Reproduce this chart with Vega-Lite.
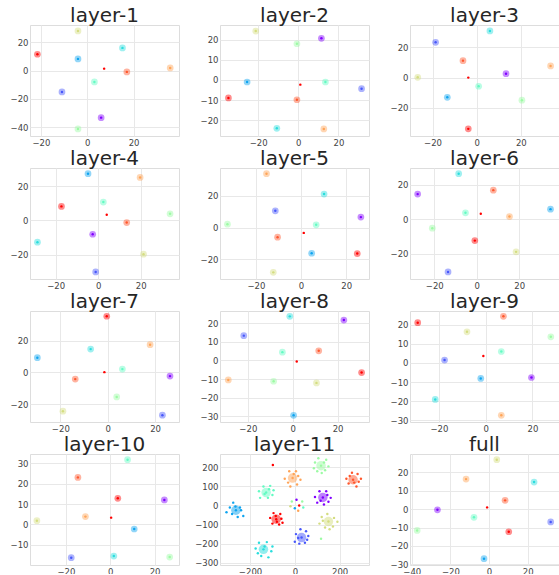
{
  "$schema": "https://vega.github.io/schema/vega-lite/v6.json",
  "padding": {"left": 9, "top": 5, "right": 0, "bottom": -2},
  "background": "white",
  "data": {"values": [
    {"p":"1","c":9,"k":"c","x":-21.5,"y":11.6},
    {"p":"1","c":6,"k":"c","x":-4.0,"y":28.1},
    {"p":"1","c":2,"k":"c","x":-4.0,"y":8.3},
    {"p":"1","c":3,"k":"c","x":15.2,"y":16.1},
    {"p":"1","c":8,"k":"c","x":17.1,"y":-0.9},
    {"p":"1","c":7,"k":"c","x":35.8,"y":1.9},
    {"p":"1","c":4,"k":"c","x":3.1,"y":-8.0},
    {"p":"1","c":1,"k":"c","x":-10.9,"y":-15.1},
    {"p":"1","c":0,"k":"c","x":6.0,"y":-33.3},
    {"p":"1","c":5,"k":"c","x":-4.0,"y":-41.3},
    {"p":"1","c":9,"k":"s","x":7.3,"y":1.4},

    {"p":"2","c":6,"k":"c","x":-21.2,"y":24.3},
    {"p":"2","c":5,"k":"c","x":-0.7,"y":18.0},
    {"p":"2","c":0,"k":"c","x":11.5,"y":20.7},
    {"p":"2","c":2,"k":"c","x":-25.5,"y":-1.0},
    {"p":"2","c":4,"k":"c","x":13.5,"y":-1.0},
    {"p":"2","c":1,"k":"c","x":31.5,"y":-4.3},
    {"p":"2","c":9,"k":"c","x":-34.8,"y":-8.9},
    {"p":"2","c":8,"k":"c","x":-0.7,"y":-9.8},
    {"p":"2","c":3,"k":"c","x":-10.7,"y":-24.0},
    {"p":"2","c":7,"k":"c","x":12.7,"y":-24.3},
    {"p":"2","c":9,"k":"s","x":1.0,"y":-2.3},

    {"p":"3","c":3,"k":"c","x":6.0,"y":30.8},
    {"p":"3","c":1,"k":"c","x":-18.6,"y":23.3},
    {"p":"3","c":8,"k":"c","x":-6.2,"y":11.2},
    {"p":"3","c":7,"k":"c","x":33.5,"y":7.7},
    {"p":"3","c":6,"k":"c","x":-26.7,"y":0.2},
    {"p":"3","c":0,"k":"c","x":13.3,"y":2.6},
    {"p":"3","c":4,"k":"c","x":0.9,"y":-5.7},
    {"p":"3","c":2,"k":"c","x":-13.3,"y":-13.0},
    {"p":"3","c":5,"k":"c","x":20.5,"y":-14.9},
    {"p":"3","c":9,"k":"c","x":-3.8,"y":-33.8},
    {"p":"3","c":9,"k":"s","x":-3.8,"y":0.0},

    {"p":"4","c":2,"k":"c","x":-4.8,"y":27.2},
    {"p":"4","c":7,"k":"c","x":19.7,"y":25.0},
    {"p":"4","c":4,"k":"c","x":2.4,"y":10.7},
    {"p":"4","c":9,"k":"c","x":-17.3,"y":8.2},
    {"p":"4","c":5,"k":"c","x":33.8,"y":3.9},
    {"p":"4","c":8,"k":"c","x":13.4,"y":-1.2},
    {"p":"4","c":0,"k":"c","x":-2.6,"y":-8.0},
    {"p":"4","c":3,"k":"c","x":-28.6,"y":-12.6},
    {"p":"4","c":6,"k":"c","x":21.3,"y":-19.6},
    {"p":"4","c":1,"k":"c","x":-1.2,"y":-29.9},
    {"p":"4","c":9,"k":"s","x":4.0,"y":3.3},

    {"p":"5","c":7,"k":"c","x":-15.3,"y":34.1},
    {"p":"5","c":3,"k":"c","x":10.2,"y":21.2},
    {"p":"5","c":1,"k":"c","x":-11.4,"y":10.6},
    {"p":"5","c":0,"k":"c","x":26.5,"y":6.6},
    {"p":"5","c":5,"k":"c","x":-32.6,"y":2.1},
    {"p":"5","c":4,"k":"c","x":6.7,"y":1.7},
    {"p":"5","c":8,"k":"c","x":-10.4,"y":-6.1},
    {"p":"5","c":2,"k":"c","x":4.7,"y":-16.3},
    {"p":"5","c":9,"k":"c","x":24.9,"y":-16.5},
    {"p":"5","c":6,"k":"c","x":-12.3,"y":-28.4},
    {"p":"5","c":9,"k":"s","x":1.2,"y":-3.4},

    {"p":"6","c":3,"k":"c","x":-8.5,"y":26.3},
    {"p":"6","c":0,"k":"c","x":-27.8,"y":14.5},
    {"p":"6","c":8,"k":"c","x":7.8,"y":16.8},
    {"p":"6","c":2,"k":"c","x":34.7,"y":5.8},
    {"p":"6","c":4,"k":"c","x":-5.3,"y":3.7},
    {"p":"6","c":7,"k":"c","x":15.4,"y":1.5},
    {"p":"6","c":5,"k":"c","x":-20.9,"y":-5.2},
    {"p":"6","c":9,"k":"c","x":-0.9,"y":-12.4},
    {"p":"6","c":6,"k":"c","x":18.5,"y":-18.9},
    {"p":"6","c":1,"k":"c","x":-13.5,"y":-30.5},
    {"p":"6","c":9,"k":"s","x":1.9,"y":3.1},

    {"p":"7","c":9,"k":"c","x":-0.4,"y":35.4},
    {"p":"7","c":7,"k":"c","x":17.9,"y":17.5},
    {"p":"7","c":3,"k":"c","x":-7.2,"y":14.7},
    {"p":"7","c":2,"k":"c","x":-29.7,"y":9.3},
    {"p":"7","c":4,"k":"c","x":6.2,"y":2.1},
    {"p":"7","c":0,"k":"c","x":26.3,"y":-2.3},
    {"p":"7","c":8,"k":"c","x":-13.7,"y":-4.2},
    {"p":"7","c":5,"k":"c","x":3.8,"y":-15.4},
    {"p":"7","c":6,"k":"c","x":-18.9,"y":-24.4},
    {"p":"7","c":1,"k":"c","x":23.1,"y":-26.9},
    {"p":"7","c":9,"k":"s","x":-1.4,"y":0.2},

    {"p":"8","c":3,"k":"c","x":-1.3,"y":23.8},
    {"p":"8","c":0,"k":"c","x":22.8,"y":21.8},
    {"p":"8","c":1,"k":"c","x":-21.8,"y":13.4},
    {"p":"8","c":4,"k":"c","x":-4.6,"y":4.5},
    {"p":"8","c":8,"k":"c","x":11.6,"y":5.2},
    {"p":"8","c":9,"k":"c","x":30.7,"y":-6.5},
    {"p":"8","c":7,"k":"c","x":-28.7,"y":-10.5},
    {"p":"8","c":5,"k":"c","x":-8.5,"y":-11.2},
    {"p":"8","c":6,"k":"c","x":10.6,"y":-12.1},
    {"p":"8","c":2,"k":"c","x":0.4,"y":-29.6},
    {"p":"8","c":9,"k":"s","x":1.8,"y":-0.5},

    {"p":"9","c":9,"k":"c","x":-29.1,"y":21.1},
    {"p":"9","c":8,"k":"c","x":7.6,"y":24.4},
    {"p":"9","c":6,"k":"c","x":-8.0,"y":16.3},
    {"p":"9","c":5,"k":"c","x":27.9,"y":13.7},
    {"p":"9","c":4,"k":"c","x":6.7,"y":6.0},
    {"p":"9","c":1,"k":"c","x":-17.6,"y":1.5},
    {"p":"9","c":2,"k":"c","x":-2.1,"y":-8.1},
    {"p":"9","c":0,"k":"c","x":19.6,"y":-7.6},
    {"p":"9","c":3,"k":"c","x":-21.6,"y":-19.1},
    {"p":"9","c":7,"k":"c","x":6.7,"y":-27.4},
    {"p":"9","c":9,"k":"s","x":-1.0,"y":3.6},

    {"p":"10","c":4,"k":"c","x":7.8,"y":31.8},
    {"p":"10","c":8,"k":"c","x":-14.6,"y":23.1},
    {"p":"10","c":9,"k":"c","x":3.4,"y":12.8},
    {"p":"10","c":0,"k":"c","x":24.4,"y":12.0},
    {"p":"10","c":7,"k":"c","x":-11.2,"y":3.8},
    {"p":"10","c":6,"k":"c","x":-33.1,"y":1.8},
    {"p":"10","c":2,"k":"c","x":10.8,"y":-2.3},
    {"p":"10","c":1,"k":"c","x":-17.6,"y":-16.4},
    {"p":"10","c":3,"k":"c","x":1.6,"y":-15.6},
    {"p":"10","c":5,"k":"c","x":26.8,"y":-16.1},
    {"p":"10","c":9,"k":"s","x":0.4,"y":3.3},

    {"p":"11","c":2,"k":"c","x":-263,"y":-25},
    {"p":"11","c":2,"k":"s","x":-275,"y":15},
    {"p":"11","c":2,"k":"s","x":-305,"y":-35},
    {"p":"11","c":2,"k":"s","x":-290,"y":-10},
    {"p":"11","c":2,"k":"s","x":-245,"y":-10},
    {"p":"11","c":2,"k":"s","x":-230,"y":-55},
    {"p":"11","c":2,"k":"s","x":-255,"y":-60},
    {"p":"11","c":2,"k":"s","x":-280,"y":-45},
    {"p":"11","c":2,"k":"s","x":-240,"y":-25},
    {"p":"11","c":2,"k":"s","x":-265,"y":-5},
    {"p":"11","c":3,"k":"c","x":-140,"y":-230},
    {"p":"11","c":3,"k":"s","x":-160,"y":-195},
    {"p":"11","c":3,"k":"s","x":-125,"y":-192},
    {"p":"11","c":3,"k":"s","x":-175,"y":-225},
    {"p":"11","c":3,"k":"s","x":-105,"y":-240},
    {"p":"11","c":3,"k":"s","x":-150,"y":-265},
    {"p":"11","c":3,"k":"s","x":-118,"y":-272},
    {"p":"11","c":3,"k":"s","x":-165,"y":-250},
    {"p":"11","c":3,"k":"s","x":-135,"y":-215},
    {"p":"11","c":3,"k":"s","x":-100,"y":-215},
    {"p":"11","c":4,"k":"c","x":-128,"y":68},
    {"p":"11","c":4,"k":"s","x":-140,"y":100},
    {"p":"11","c":4,"k":"s","x":-110,"y":103},
    {"p":"11","c":4,"k":"s","x":-160,"y":75},
    {"p":"11","c":4,"k":"s","x":-95,"y":80},
    {"p":"11","c":4,"k":"s","x":-155,"y":40},
    {"p":"11","c":4,"k":"s","x":-120,"y":40},
    {"p":"11","c":4,"k":"s","x":-100,"y":55},
    {"p":"11","c":4,"k":"s","x":-135,"y":60},
    {"p":"11","c":4,"k":"s","x":-115,"y":85},
    {"p":"11","c":9,"k":"c","x":-83,"y":-72},
    {"p":"11","c":9,"k":"s","x":-95,"y":-40},
    {"p":"11","c":9,"k":"s","x":-65,"y":-45},
    {"p":"11","c":9,"k":"s","x":-110,"y":-65},
    {"p":"11","c":9,"k":"s","x":-60,"y":-70},
    {"p":"11","c":9,"k":"s","x":-100,"y":-95},
    {"p":"11","c":9,"k":"s","x":-70,"y":-100},
    {"p":"11","c":9,"k":"s","x":-55,"y":-90},
    {"p":"11","c":9,"k":"s","x":-85,"y":-55},
    {"p":"11","c":9,"k":"s","x":-80,"y":-85},
    {"p":"11","c":9,"k":"s","x":-98,"y":212},
    {"p":"11","c":7,"k":"c","x":-10,"y":144},
    {"p":"11","c":7,"k":"s","x":-25,"y":180},
    {"p":"11","c":7,"k":"s","x":5,"y":180},
    {"p":"11","c":7,"k":"s","x":-45,"y":140},
    {"p":"11","c":7,"k":"s","x":25,"y":135},
    {"p":"11","c":7,"k":"s","x":-20,"y":100},
    {"p":"11","c":7,"k":"s","x":10,"y":110},
    {"p":"11","c":7,"k":"s","x":-5,"y":165},
    {"p":"11","c":7,"k":"s","x":-30,"y":120},
    {"p":"11","c":7,"k":"s","x":15,"y":155},
    {"p":"11","c":5,"k":"c","x":117,"y":209},
    {"p":"11","c":5,"k":"s","x":105,"y":248},
    {"p":"11","c":5,"k":"s","x":90,"y":225},
    {"p":"11","c":5,"k":"s","x":140,"y":240},
    {"p":"11","c":5,"k":"s","x":150,"y":205},
    {"p":"11","c":5,"k":"s","x":85,"y":195},
    {"p":"11","c":5,"k":"s","x":120,"y":170},
    {"p":"11","c":5,"k":"s","x":100,"y":180},
    {"p":"11","c":5,"k":"s","x":135,"y":185},
    {"p":"11","c":5,"k":"s","x":130,"y":225},
    {"p":"11","c":5,"k":"s","x":117,"y":-174},
    {"p":"11","c":8,"k":"c","x":260,"y":135},
    {"p":"11","c":8,"k":"s","x":255,"y":172},
    {"p":"11","c":8,"k":"s","x":280,"y":165},
    {"p":"11","c":8,"k":"s","x":230,"y":140},
    {"p":"11","c":8,"k":"s","x":295,"y":140},
    {"p":"11","c":8,"k":"s","x":240,"y":115},
    {"p":"11","c":8,"k":"s","x":275,"y":100},
    {"p":"11","c":8,"k":"s","x":265,"y":120},
    {"p":"11","c":8,"k":"s","x":245,"y":155},
    {"p":"11","c":8,"k":"s","x":285,"y":125},
    {"p":"11","c":0,"k":"c","x":125,"y":42},
    {"p":"11","c":0,"k":"s","x":110,"y":75},
    {"p":"11","c":0,"k":"s","x":140,"y":75},
    {"p":"11","c":0,"k":"s","x":90,"y":45},
    {"p":"11","c":0,"k":"s","x":160,"y":40},
    {"p":"11","c":0,"k":"s","x":100,"y":15},
    {"p":"11","c":0,"k":"s","x":130,"y":5},
    {"p":"11","c":0,"k":"s","x":115,"y":25},
    {"p":"11","c":0,"k":"s","x":150,"y":20},
    {"p":"11","c":0,"k":"s","x":145,"y":55},
    {"p":"11","c":6,"k":"c","x":150,"y":-84},
    {"p":"11","c":6,"k":"s","x":145,"y":-45},
    {"p":"11","c":6,"k":"s","x":120,"y":-60},
    {"p":"11","c":6,"k":"s","x":175,"y":-65},
    {"p":"11","c":6,"k":"s","x":190,"y":-85},
    {"p":"11","c":6,"k":"s","x":110,"y":-95},
    {"p":"11","c":6,"k":"s","x":135,"y":-115},
    {"p":"11","c":6,"k":"s","x":170,"y":-110},
    {"p":"11","c":6,"k":"s","x":155,"y":-125},
    {"p":"11","c":6,"k":"s","x":125,"y":-80},
    {"p":"11","c":1,"k":"c","x":30,"y":-168},
    {"p":"11","c":1,"k":"s","x":25,"y":-125},
    {"p":"11","c":1,"k":"s","x":50,"y":-135},
    {"p":"11","c":1,"k":"s","x":5,"y":-150},
    {"p":"11","c":1,"k":"s","x":60,"y":-160},
    {"p":"11","c":1,"k":"s","x":0,"y":-190},
    {"p":"11","c":1,"k":"s","x":20,"y":-200},
    {"p":"11","c":1,"k":"s","x":45,"y":-195},
    {"p":"11","c":1,"k":"s","x":55,"y":-180},
    {"p":"11","c":1,"k":"s","x":15,"y":-170},
    {"p":"11","c":0,"k":"s","x":7.5,"y":29.8},
    {"p":"11","c":5,"k":"s","x":-13.5,"y":21},
    {"p":"11","c":6,"k":"s","x":-19.5,"y":-3.5},
    {"p":"11","c":2,"k":"s","x":0,"y":-14},
    {"p":"11","c":9,"k":"s","x":19.5,"y":0},
    {"p":"11","c":5,"k":"s","x":33,"y":21},
    {"p":"11","c":7,"k":"s","x":15,"y":-28},
    {"p":"11","c":4,"k":"s","x":37.6,"y":-10.5},

    {"p":"full","c":6,"k":"c","x":4.0,"y":26.7},
    {"p":"full","c":7,"k":"c","x":-11.9,"y":16.2},
    {"p":"full","c":3,"k":"c","x":23.3,"y":14.6},
    {"p":"full","c":8,"k":"c","x":8.3,"y":4.7},
    {"p":"full","c":0,"k":"c","x":-26.7,"y":-0.4},
    {"p":"full","c":4,"k":"c","x":-7.8,"y":-4.5},
    {"p":"full","c":1,"k":"c","x":31.9,"y":-7.0},
    {"p":"full","c":5,"k":"c","x":-37.2,"y":-11.6},
    {"p":"full","c":9,"k":"c","x":10.2,"y":-12.3},
    {"p":"full","c":2,"k":"c","x":-2.6,"y":-26.9},
    {"p":"full","c":9,"k":"s","x":-1.0,"y":0.9}
  ]},
  "columns": 3,
  "bounds": "flush",
  "spacing": {"row": 32, "column": 41},
  "resolve": {"scale": {"x": "independent", "y": "independent"}},
  "concat": [
    {"title": "layer-1", "width": 149, "height": 111,
     "transform": [{"filter": "datum.p == '1'"}],
     "encoding": {
       "x": {"field": "x", "type": "quantitative", "scale": {"domain": [-24.7, 39.6], "nice": false, "zero": false}, "axis": {"values": [-20, 0, 20]}},
       "y": {"field": "y", "type": "quantitative", "scale": {"domain": [-46.3, 32.3], "nice": false, "zero": false}, "axis": {"values": [-40, -20, 0, 20]}},
       "color": {"field": "c", "type": "nominal", "legend": null}},
     "layer": [
       {"transform": [{"filter": "datum.k == 'c'"}], "mark": {"type": "circle", "size": 45, "opacity": 0.45}},
       {"mark": {"type": "circle", "size": 6, "opacity": 1}}]},
    {"title": "layer-2", "width": 149, "height": 111,
     "transform": [{"filter": "datum.p == '2'"}],
     "encoding": {
       "x": {"field": "x", "type": "quantitative", "scale": {"domain": [-39, 35.2], "nice": false, "zero": false}, "axis": {"values": [-20, 0, 20]}},
       "y": {"field": "y", "type": "quantitative", "scale": {"domain": [-27.8, 27.3], "nice": false, "zero": false}, "axis": {"values": [-20, -10, 0, 10, 20]}},
       "color": {"field": "c", "type": "nominal", "legend": null}},
     "layer": [
       {"transform": [{"filter": "datum.k == 'c'"}], "mark": {"type": "circle", "size": 45, "opacity": 0.45}},
       {"mark": {"type": "circle", "size": 6, "opacity": 1}}]},
    {"title": "layer-3", "width": 149, "height": 111,
     "transform": [{"filter": "datum.p == '3'"}],
     "encoding": {
       "x": {"field": "x", "type": "quantitative", "scale": {"domain": [-30.2, 37.3], "nice": false, "zero": false}, "axis": {"values": [-20, 0, 20]}},
       "y": {"field": "y", "type": "quantitative", "scale": {"domain": [-38.5, 34.7], "nice": false, "zero": false}, "axis": {"values": [-20, 0, 20]}},
       "color": {"field": "c", "type": "nominal", "legend": null}},
     "layer": [
       {"transform": [{"filter": "datum.k == 'c'"}], "mark": {"type": "circle", "size": 45, "opacity": 0.45}},
       {"mark": {"type": "circle", "size": 6, "opacity": 1}}]},
    {"title": "layer-4", "width": 149, "height": 111,
     "transform": [{"filter": "datum.p == '4'"}],
     "encoding": {
       "x": {"field": "x", "type": "quantitative", "scale": {"domain": [-32.1, 38.0], "nice": false, "zero": false}, "axis": {"values": [-20, 0, 20]}},
       "y": {"field": "y", "type": "quantitative", "scale": {"domain": [-34.0, 30.5], "nice": false, "zero": false}, "axis": {"values": [-20, 0, 20]}},
       "color": {"field": "c", "type": "nominal", "legend": null}},
     "layer": [
       {"transform": [{"filter": "datum.k == 'c'"}], "mark": {"type": "circle", "size": 45, "opacity": 0.45}},
       {"mark": {"type": "circle", "size": 6, "opacity": 1}}]},
    {"title": "layer-5", "width": 149, "height": 111,
     "transform": [{"filter": "datum.p == '5'"}],
     "encoding": {
       "x": {"field": "x", "type": "quantitative", "scale": {"domain": [-35.9, 30.1], "nice": false, "zero": false}, "axis": {"values": [-20, 0, 20]}},
       "y": {"field": "y", "type": "quantitative", "scale": {"domain": [-32.6, 37.7], "nice": false, "zero": false}, "axis": {"values": [-20, 0, 20]}},
       "color": {"field": "c", "type": "nominal", "legend": null}},
     "layer": [
       {"transform": [{"filter": "datum.k == 'c'"}], "mark": {"type": "circle", "size": 45, "opacity": 0.45}},
       {"mark": {"type": "circle", "size": 6, "opacity": 1}}]},
    {"title": "layer-6", "width": 149, "height": 111,
     "transform": [{"filter": "datum.p == '6'"}],
     "encoding": {
       "x": {"field": "x", "type": "quantitative", "scale": {"domain": [-31.4, 38.7], "nice": false, "zero": false}, "axis": {"values": [-20, 0, 20]}},
       "y": {"field": "y", "type": "quantitative", "scale": {"domain": [-34.6, 29.6], "nice": false, "zero": false}, "axis": {"values": [-20, 0, 20]}},
       "color": {"field": "c", "type": "nominal", "legend": null}},
     "layer": [
       {"transform": [{"filter": "datum.k == 'c'"}], "mark": {"type": "circle", "size": 45, "opacity": 0.45}},
       {"mark": {"type": "circle", "size": 6, "opacity": 1}}]},
    {"title": "layer-7", "width": 149, "height": 111,
     "transform": [{"filter": "datum.p == '7'"}],
     "encoding": {
       "x": {"field": "x", "type": "quantitative", "scale": {"domain": [-32.8, 30.1], "nice": false, "zero": false}, "axis": {"values": [-20, 0, 20]}},
       "y": {"field": "y", "type": "quantitative", "scale": {"domain": [-31.2, 38.7], "nice": false, "zero": false}, "axis": {"values": [-20, 0, 20]}},
       "color": {"field": "c", "type": "nominal", "legend": null}},
     "layer": [
       {"transform": [{"filter": "datum.k == 'c'"}], "mark": {"type": "circle", "size": 45, "opacity": 0.45}},
       {"mark": {"type": "circle", "size": 6, "opacity": 1}}]},
    {"title": "layer-8", "width": 149, "height": 111,
     "transform": [{"filter": "datum.p == '8'"}],
     "encoding": {
       "x": {"field": "x", "type": "quantitative", "scale": {"domain": [-32.4, 34.0], "nice": false, "zero": false}, "axis": {"values": [-20, 0, 20]}},
       "y": {"field": "y", "type": "quantitative", "scale": {"domain": [-33.2, 26.7], "nice": false, "zero": false}, "axis": {"values": [-30, -20, -10, 0, 10, 20]}},
       "color": {"field": "c", "type": "nominal", "legend": null}},
     "layer": [
       {"transform": [{"filter": "datum.k == 'c'"}], "mark": {"type": "circle", "size": 45, "opacity": 0.45}},
       {"mark": {"type": "circle", "size": 6, "opacity": 1}}]},
    {"title": "layer-9", "width": 149, "height": 111,
     "transform": [{"filter": "datum.p == '9'"}],
     "encoding": {
       "x": {"field": "x", "type": "quantitative", "scale": {"domain": [-32.4, 31.4], "nice": false, "zero": false}, "axis": {"values": [-20, 0, 20]}},
       "y": {"field": "y", "type": "quantitative", "scale": {"domain": [-30.9, 27.2], "nice": false, "zero": false}, "axis": {"values": [-30, -20, -10, 0, 10, 20]}},
       "color": {"field": "c", "type": "nominal", "legend": null}},
     "layer": [
       {"transform": [{"filter": "datum.k == 'c'"}], "mark": {"type": "circle", "size": 45, "opacity": 0.45}},
       {"mark": {"type": "circle", "size": 6, "opacity": 1}}]},
    {"title": "layer-10", "width": 149, "height": 111,
     "transform": [{"filter": "datum.p == '10'"}],
     "encoding": {
       "x": {"field": "x", "type": "quantitative", "scale": {"domain": [-36.2, 31.0], "nice": false, "zero": false}, "axis": {"values": [-20, 0, 20]}},
       "y": {"field": "y", "type": "quantitative", "scale": {"domain": [-20.0, 34.6], "nice": false, "zero": false}, "axis": {"values": [-10, 0, 10, 20, 30]}},
       "color": {"field": "c", "type": "nominal", "legend": null}},
     "layer": [
       {"transform": [{"filter": "datum.k == 'c'"}], "mark": {"type": "circle", "size": 45, "opacity": 0.45}},
       {"mark": {"type": "circle", "size": 6, "opacity": 1}}]},
    {"title": "layer-11", "width": 149, "height": 111,
     "transform": [{"filter": "datum.p == '11'"}],
     "encoding": {
       "x": {"field": "x", "type": "quantitative", "scale": {"domain": [-334, 331], "nice": false, "zero": false}, "axis": {"values": [-200, 0, 200]}},
       "y": {"field": "y", "type": "quantitative", "scale": {"domain": [-312, 270], "nice": false, "zero": false}, "axis": {"values": [-300, -200, -100, 0, 100, 200]}},
       "color": {"field": "c", "type": "nominal", "legend": null}},
     "layer": [
       {"transform": [{"filter": "datum.k == 'c'"}], "mark": {"type": "circle", "size": 90, "opacity": 0.5}},
       {"mark": {"type": "circle", "size": 6, "opacity": 1}}]},
    {"title": "full", "width": 149, "height": 111,
     "transform": [{"filter": "datum.p == 'full'"}],
     "encoding": {
       "x": {"field": "x", "type": "quantitative", "scale": {"domain": [-40.9, 36.2], "nice": false, "zero": false}, "axis": {"values": [-40, -20, 0, 20]}},
       "y": {"field": "y", "type": "quantitative", "scale": {"domain": [-30.3, 29.8], "nice": false, "zero": false}, "axis": {"values": [-30, -20, -10, 0, 10, 20]}},
       "color": {"field": "c", "type": "nominal", "legend": null}},
     "layer": [
       {"transform": [{"filter": "datum.k == 'c'"}], "mark": {"type": "circle", "size": 45, "opacity": 0.45}},
       {"mark": {"type": "circle", "size": 6, "opacity": 1}}]}
  ],
  "config": {
    "range": {"category": ["#8000ff", "#4757fb", "#0ea4f0", "#2adddd", "#63fbc3", "#9cfba4", "#d4dd80", "#ffa457", "#ff572c", "#ff0000"]},
    "view": {"stroke": "#dddddd", "strokeWidth": 1},
    "axis": {"grid": true, "gridColor": "#e8e8e8", "gridWidth": 1, "domain": false, "ticks": false, "labelFont": "DejaVu Sans", "labelFontSize": 8.5, "labelColor": "#444444", "labelPadding": 2, "title": null},
    "title": {"font": "DejaVu Sans", "fontSize": 20, "fontWeight": "normal", "color": "#262626", "frame": "group", "anchor": "middle", "offset": -1}
  }
}
